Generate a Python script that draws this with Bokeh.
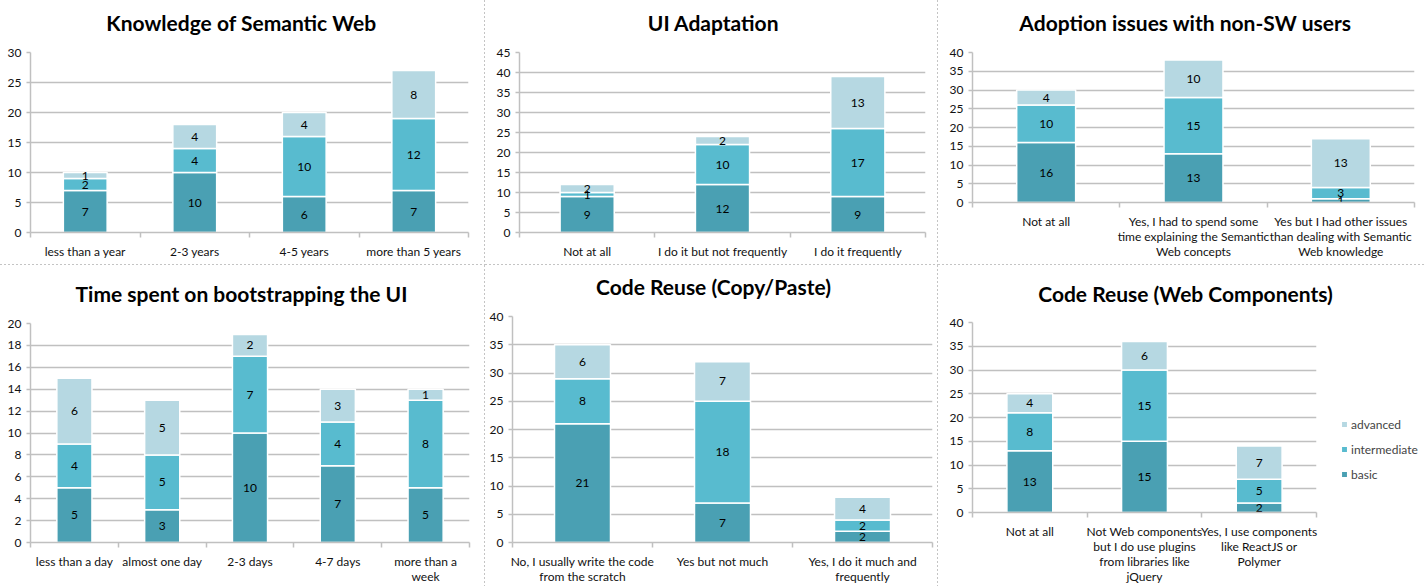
from bokeh.plotting import figure
from bokeh.models import FixedTicker, Legend, LegendItem, ColumnDataSource, Range1d
from bokeh.core.properties import value
from bokeh.embed import file_html
from bokeh.resources import INLINE

# ---------------- data ----------------
series_names = ["basic", "intermediate", "advanced"]

t1 = "Knowledge of Semantic Web"
c1 = ["less than a year", "2-3 years", "4-5 years", "more than 5 years"]
b1 = [7, 10, 6, 7]
i1 = [2, 4, 10, 12]
a1 = [1, 4, 4, 8]

t2 = "UI Adaptation"
c2 = ["Not at all", "I do it but not frequently", "I do it frequently"]
b2 = [9, 12, 9]
i2 = [1, 10, 17]
a2 = [2, 2, 13]

t3 = "Adoption issues with non-SW users"
c3 = ["Not at all",
      "Yes, I had to spend some\ntime explaining the Semantic\nWeb concepts",
      "Yes but I had other issues\nthan dealing with Semantic\nWeb knowledge"]
b3 = [16, 13, 1]
i3 = [10, 15, 3]
a3 = [4, 10, 13]

t4 = "Time spent on bootstrapping the UI"
c4 = ["less than a day", "almost one day", "2-3 days", "4-7 days", "more than a\nweek"]
b4 = [5, 3, 10, 7, 5]
i4 = [4, 5, 7, 4, 8]
a4 = [6, 5, 2, 3, 1]

t5 = "Code Reuse (Copy/Paste)"
c5 = ["No, I usually write the code\nfrom the scratch", "Yes but not much",
      "Yes, I do it much and\nfrequently"]
b5 = [21, 7, 2]
i5 = [8, 18, 2]
a5 = [6, 7, 4]

t6 = "Code Reuse (Web Components)"
c6 = ["Not at all",
      "Not Web components\nbut I do use plugins\nfrom libraries like\njQuery",
      "Yes, I use components\nlike ReactJS or\nPolymer"]
b6 = [13, 15, 2]
i6 = [8, 15, 5]
a6 = [4, 6, 7]

COLORS = ["#4aa0b3", "#58bbcf", "#b6d8e2"]
GRID = "#c0c0c0"
FONT = "Lato"
SEP = "#c4c4c4"
W, H = 1426, 586


def sep_style(right_line, bottom_line):
    imgs, sizes, reps, poss = [], [], [], []
    if right_line:
        imgs.append(f"linear-gradient(to bottom, {SEP} 50%, rgba(255,255,255,0) 50%)")
        sizes.append("1px 4px")
        reps.append("repeat-y")
        poss.append("right top")
    if bottom_line:
        imgs.append(f"linear-gradient(to right, {SEP} 50%, rgba(255,255,255,0) 50%)")
        sizes.append("4px 1px")
        reps.append("repeat-x")
        poss.append("left bottom")
    if not imgs:
        return {}
    return {"background-image": ", ".join(imgs),
            "background-size": ", ".join(sizes),
            "background-repeat": ", ".join(reps),
            "background-position": ", ".join(poss)}


def panel(cats, basic, inter, adv, ymax, ystep, px, py, w, h, bl, br, bt, bb,
          rline, bline):
    n = len(cats)
    xs = list(range(1, n + 1))
    p = figure(width=w, height=h, x_range=Range1d(0.5, n + 0.5), y_range=Range1d(0, ymax),
               output_backend="svg", toolbar_location=None,
               min_border_left=bl, min_border_right=br, min_border_top=bt,
               min_border_bottom=bb)
    p.border_fill_color = None
    p.background_fill_color = "white"
    p.outline_line_color = None
    st = {"position": "absolute", "left": f"{px}px", "top": f"{py}px"}
    st.update(sep_style(rline, bline))
    p.styles = st

    src = ColumnDataSource(dict(x=xs, basic=basic, intermediate=inter, advanced=adv))
    rs = p.vbar_stack(series_names, x="x", width=0.4, source=src,
                      fill_color=COLORS, line_color="white", line_width=1.5)

    lx, ly, lt = [], [], []
    for i in range(n):
        cum = 0
        for ser in (basic, inter, adv):
            v = ser[i]
            lx.append(xs[i])
            ly.append(cum + v / 2)
            lt.append(str(v))
            cum += v
    p.text(x=lx, y=ly, text=lt, text_align="center", text_baseline="middle",
           text_font=value(FONT), text_font_size="12px", text_color="#000000")

    xa = p.xaxis[0]
    xa.ticker = FixedTicker(ticks=xs, minor_ticks=[k + 0.5 for k in range(n + 1)])
    xa.major_label_overrides = {x: c for x, c in zip(xs, cats)}
    xa.major_tick_out = 0
    xa.major_tick_in = 0
    xa.minor_tick_out = 5
    xa.minor_tick_in = 0
    xa.minor_tick_line_color = GRID
    xa.minor_tick_line_width = 1.5
    xa.axis_line_color = GRID
    xa.axis_line_width = 1.5
    xa.major_label_standoff = 6
    xa.major_label_text_font = FONT
    xa.major_label_text_font_size = "12px"
    xa.major_label_text_color = "#111111"
    xa.major_label_text_line_height = 1.0

    ya = p.yaxis[0]
    ya.ticker = FixedTicker(ticks=list(range(0, ymax + 1, ystep)))
    ya.major_tick_out = 4
    ya.major_tick_in = 0
    ya.minor_tick_out = 0
    ya.minor_tick_in = 0
    ya.major_tick_line_color = GRID
    ya.major_tick_line_width = 1.5
    ya.axis_line_color = GRID
    ya.axis_line_width = 1.5
    ya.major_label_standoff = 5
    ya.major_label_text_font = FONT
    ya.major_label_text_font_size = "12px"
    ya.major_label_text_color = "#111111"

    p.xgrid.visible = False
    p.ygrid.grid_line_color = GRID
    p.ygrid.grid_line_width = 1.5
    return p, rs


p1, _ = panel(c1, b1, i1, a1, 30, 5, 0, 0, 485, 265, 30, 17, 52, 33, True, True)
p2, _ = panel(c2, b2, i2, a2, 45, 5, 485, 0, 453, 265, 34, 13, 52, 33, True, True)
p3, _ = panel(c3, b3, i3, a3, 40, 5, 938, 0, 488, 265, 34, 12, 52, 63, False, True)
p4, _ = panel(c4, b4, i4, a4, 20, 2, 0, 265, 485, 321, 30, 16, 58, 42, True, False)
p5, _ = panel(c5, b5, i5, a5, 40, 5, 485, 265, 453, 321, 27, 6, 51, 42, True, False)
p6, rs6 = panel(c6, b6, i6, a6, 40, 5, 938, 265, 488, 321, 34, 110, 57, 73, False, False)

# panel titles: a transparent overlay in page pixels (y grows downward)
tf = figure(width=W, height=H, output_backend="svg", toolbar_location=None,
            min_border=0, x_range=Range1d(0, W), y_range=Range1d(H, 0))
tf.axis.visible = False
tf.grid.visible = False
tf.outline_line_color = None
tf.border_fill_color = None
tf.background_fill_color = None
tf.styles = {"position": "absolute", "left": "0px", "top": "0px"}
tf.text(x=[241, 713, 1185, 241, 713, 1185], y=[22, 22, 22, 293, 286, 293],
        text=[t1, t2, t3, t4, t5, t6], text_align="center", text_baseline="alphabetic",
        text_font=value(FONT), text_font_style="bold", text_font_size="21px",
        text_color="#000000")

# legend drawn in a small figure of its own beside the last panel
lf = figure(width=100, height=80, output_backend="svg", toolbar_location=None,
            min_border=0, x_range=Range1d(0, 1), y_range=Range1d(0, 1))
lf.axis.visible = False
lf.grid.visible = False
lf.outline_line_color = None
lf.border_fill_color = None
lf.background_fill_color = None
lf.styles = {"position": "absolute", "left": "1340px", "top": "414px"}
lsrc = ColumnDataSource(dict(x=[5], basic=[1], intermediate=[1], advanced=[1]))
lrs = lf.vbar_stack(series_names, x="x", width=0.4, source=lsrc,
                    fill_color=COLORS, line_color="white", line_width=1.5)
legend = Legend(items=[LegendItem(label="advanced", renderers=[lrs[2]]),
                       LegendItem(label="intermediate", renderers=[lrs[1]]),
                       LegendItem(label="basic", renderers=[lrs[0]])],
                location="top_left", glyph_width=8, glyph_height=8, label_height=20,
                spacing=5, padding=0, margin=0, border_line_color=None,
                background_fill_alpha=0, label_text_font=FONT,
                label_text_font_size="12px", label_standoff=3)
lf.add_layout(legend, "center")

open("out.html", "w").write(file_html([p1, p2, p3, p4, p5, p6, tf, lf], INLINE))
